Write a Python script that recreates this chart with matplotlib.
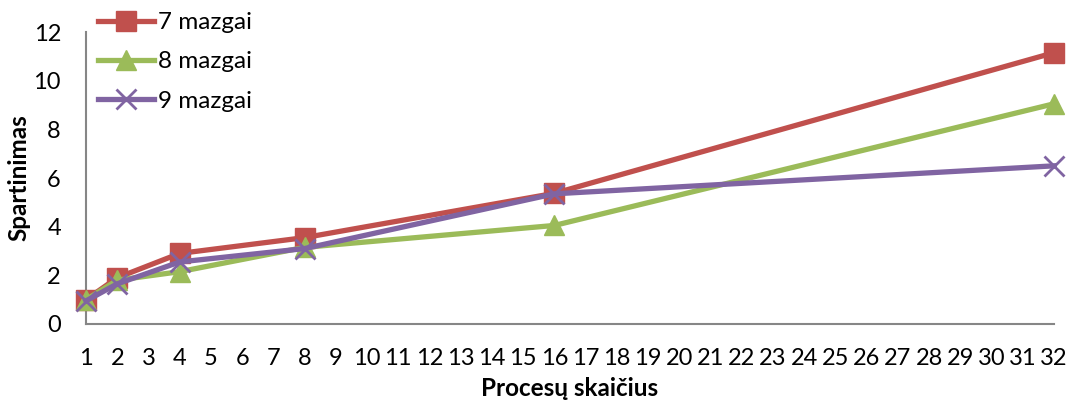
import matplotlib
matplotlib.use("Agg")
import matplotlib.pyplot as plt

# Speedup vs number of processes for 7, 8 and 9 nodes
procs = [1, 2, 4, 8, 16, 32]
speedup_7 = [1.0, 1.9, 2.9, 3.55, 5.37, 11.15]
speedup_8 = [1.0, 1.8, 2.15, 3.15, 4.05, 9.05]
speedup_9 = [0.95, 1.65, 2.55, 3.1, 5.35, 6.5]
x_ticks = list(range(1, 33))
y_ticks = [0, 2, 4, 6, 8, 10, 12]

plt.rcParams['font.family'] = ['Lato', 'DejaVu Sans']
FS = 17.5

fig = plt.figure(figsize=(10.78, 4.03), dpi=100)
ax = fig.add_axes([86 / 1078, 79 / 403, (1054 - 86) / 1078, (324 - 32) / 403])

ax.plot(procs, speedup_7, color='#C0504D', lw=3.8, marker='s', ms=14,
        label='7 mazgai', clip_on=False, zorder=3)
ax.plot(procs, speedup_8, color='#9BBB59', lw=3.8, marker='^', ms=15,
        label='8 mazgai', clip_on=False, zorder=3)
ax.plot(procs, speedup_9, color='#8064A2', lw=3.8, marker='x', ms=14, mew=2,
        label='9 mazgai', clip_on=False, zorder=4)

ax.set_xlim(1, 32)
ax.set_ylim(0, 12)
ax.set_xticks(x_ticks)
ax.set_yticks(y_ticks)
ax.tick_params(axis='both', length=0, labelsize=17)
ax.tick_params(axis='x', pad=17)
ax.tick_params(axis='y', pad=18)

for side in ('top', 'right'):
    ax.spines[side].set_visible(False)
for side in ('left', 'bottom'):
    ax.spines[side].set_color('#868686')
    ax.spines[side].set_linewidth(1.5)

ax.set_xlabel('Procesų skaičius', fontsize=FS, fontweight='bold', labelpad=6)
ax.set_ylabel('Spartinimas', fontsize=FS, fontweight='bold')
ax.yaxis.set_label_coords(-0.057, 0.5)

fig.legend(loc='upper left', bbox_to_anchor=(98 / 1078, 1 - 12 / 403),
           frameon=False, fontsize=FS, handlelength=2.3, handletextpad=0.15,
           labelspacing=0.76, borderpad=0, borderaxespad=0)

fig.savefig('out.png', dpi=100)
